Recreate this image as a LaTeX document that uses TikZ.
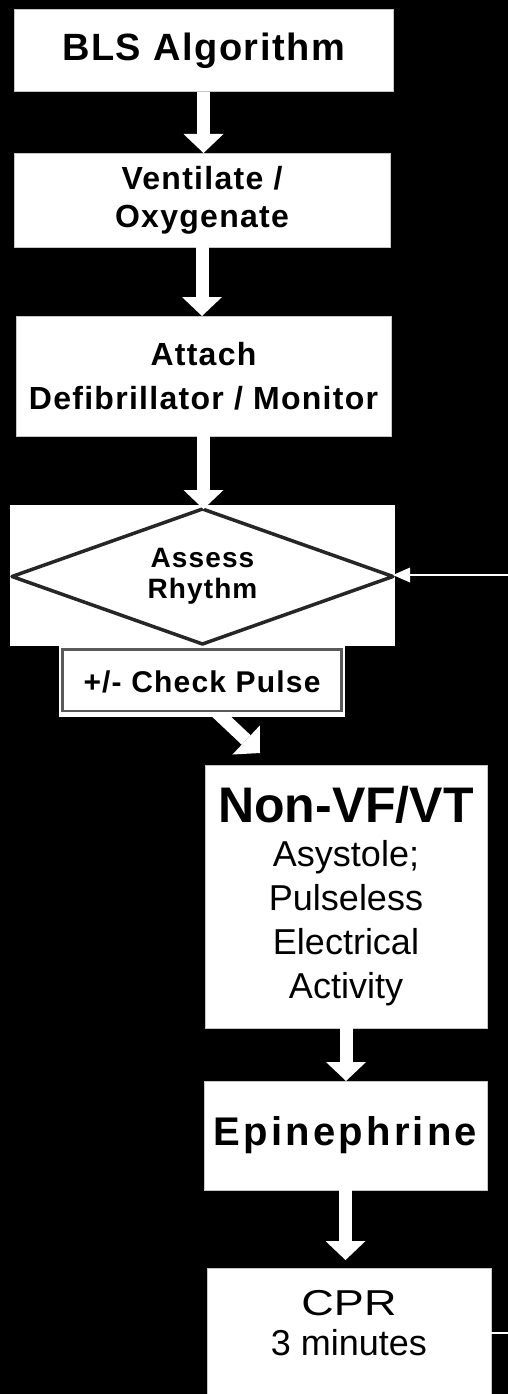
\documentclass[tikz,border=0pt]{standalone}
\usepackage{fontspec}
\setmainfont{Liberation Sans}
\newfontfamily\spaced[LetterSpace=4]{Liberation Sans}
\newfontfamily\wider[LetterSpace=8]{Liberation Sans}
\usetikzlibrary{arrows.meta,shapes.geometric}
\pgfdeclarelayer{back}
\pgfdeclarelayer{under}
\pgfsetlayers{back,under,main}
\tikzset{
  stepbox/.style={rectangle, fill=white, draw=gray!45, line width=1pt,
    inner sep=0pt, outer sep=0pt, align=center, text=black},
  fatarrow/.style={draw=white, line width=13pt,
    -{Triangle[width=40pt,length=19pt,line width=0pt,fill=white]}},
  thinarrow/.style={draw=white, line width=2pt,
    -{Triangle[width=15pt,length=17pt,line width=0pt,fill=white]}},
}
\begin{document}
\begin{tikzpicture}[x=1pt,y=-1pt]
\begin{pgfonlayer}{back}
  \fill[black] (0,0) rectangle (508,1394);
\end{pgfonlayer}
\useasboundingbox (0,0) rectangle (508,1394);

% upper column of steps
\node[stepbox, minimum width=379pt, minimum height=82pt,
  font=\spaced\bfseries\fontsize{38}{40}\selectfont] (bls) at (203.5,51) {BLS Algorithm};
\node[stepbox, minimum width=376pt, minimum height=94pt,
  font=\spaced\bfseries\fontsize{32}{38}\selectfont] (vent) at (202,200) {Ventilate /\\Oxygenate};
\node[stepbox, minimum width=375pt, minimum height=120pt,
  font=\spaced\bfseries\fontsize{32}{44}\selectfont] (defib) at (203.5,376) {Attach\\Defibrillator / Monitor};

% decision
\node[rectangle, fill=white, minimum width=385pt, minimum height=141pt,
  inner sep=0pt, outer sep=0pt] (diabg) at (202.5,575.5) {};
\node[diamond, aspect=2.8, draw=black!85, line width=3.5pt, line join=round,
  minimum width=381pt, minimum height=135pt,
  inner sep=0pt, outer sep=0pt, align=center,
  font=\spaced\bfseries\fontsize{28}{31}\selectfont] (dia) at (202.5,576.5) {Assess\\Rhythm};

\node[stepbox, draw=none, minimum width=286pt, minimum height=71pt,
  font=\spaced\bfseries\fontsize{30}{32}\selectfont] (pulse) at (202,681.5) {+/- Check Pulse};
\draw[draw=gray!70!black, line width=2.5pt]
  ([shift={(3.5,3.5)}]pulse.north west) rectangle ([shift={(-3.5,-6)}]pulse.south east);

% lower column of steps
\node[stepbox, minimum width=282pt, minimum height=263pt,
  font=\fontsize{36}{44}\selectfont] (nonvf) at (346,896.5)
  {{\fontsize{50}{50}\selectfont\bfseries Non-VF/VT}\\Asystole;\\Pulseless\\Electrical\\Activity};
\node[stepbox, minimum width=283pt, minimum height=109pt,
  font=\wider\bfseries\fontsize{40}{44}\selectfont] (epi) at (345.5,1135.5) {Epinephrine};
\node[stepbox, minimum width=284pt, minimum height=132pt,
  font=\fontsize{36}{40}\selectfont] (cpr) at (349,1334)
  {\scalebox{1.25}[1]{CPR}\\3 minutes\rule[-23pt]{0pt}{23pt}};

% connectors
\draw[fatarrow] (bls.south) -- (bls.south |- vent.north);
\draw[fatarrow] (vent.south) -- (vent.south |- defib.north);
\draw[fatarrow] (defib.south) -- (defib.south |- dia.north);
\coordinate (dtip) at (260,753);
\begin{pgfonlayer}{under}
  \draw[fatarrow] ([shift={(5,-14)}]pulse.south) -- (dtip);
\end{pgfonlayer}
\draw[fatarrow] (nonvf.south) -- (nonvf.south |- epi.north);
\draw[fatarrow] (epi.south) -- ([yshift=8pt]epi.south |- cpr.north);

\coordinate (loopin) at (508,575);
\draw[thinarrow] (loopin) -- (loopin -| dia.east);
\coordinate (loopout) at (508,1333);
\draw[draw=white, line width=1.5pt] (cpr.east |- loopout) -- (loopout);
\end{tikzpicture}
\end{document}
